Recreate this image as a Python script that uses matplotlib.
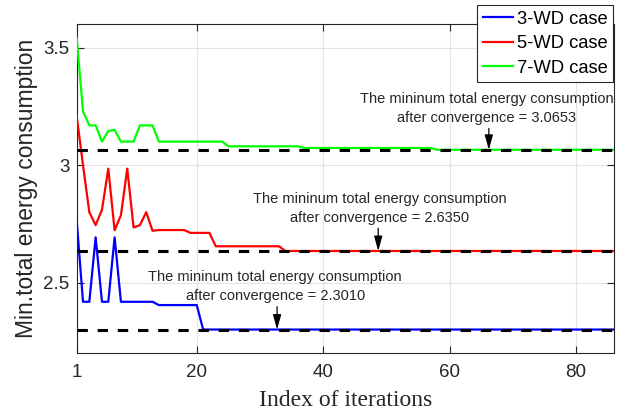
import matplotlib.pyplot as plt

plt.rcParams['font.family'] = ['Liberation Sans', 'DejaVu Sans']

# vertices of each convergence curve (iteration index, min. total energy)
it_3wd = [1, 2, 3, 4, 5, 6, 7, 8, 13, 14, 20, 21, 86]
e_3wd = [2.766, 2.419, 2.419, 2.693, 2.419, 2.419, 2.693, 2.419, 2.419,
         2.405, 2.405, 2.301, 2.301]

it_5wd = [1, 2, 3, 4, 5, 6, 7, 8, 9, 10, 11, 12, 13, 14, 18, 19, 22, 23,
          33, 34, 86]
e_5wd = [3.209, 3.0, 2.80, 2.745, 2.81, 2.985, 2.723, 2.787, 2.985, 2.735,
         2.745, 2.80, 2.721, 2.724, 2.724, 2.712, 2.712, 2.655, 2.655,
         2.635, 2.635]

it_7wd = [1, 2, 3, 4, 5, 6, 7, 8, 10, 11, 13, 14, 24, 25, 36, 37, 57, 58, 86]
e_7wd = [3.541, 3.229, 3.169, 3.169, 3.100, 3.145, 3.150, 3.100, 3.100,
         3.169, 3.169, 3.100, 3.100, 3.080, 3.080, 3.073, 3.073, 3.0653,
         3.0653]

labels = ['3-WD case', '5-WD case', '7-WD case']
colors = ['#0000ff', '#ff0000', '#00ff00']

# converged minimum for each case
e_min = [2.3010, 2.6350, 3.0653]
arrow_x = [32.7, 48.7, 66.2]
arrow_top = [2.398, 2.732, 3.156]
text_x = [32.4, 48.9, 65.9]
text_y = [2.483, 2.814, 3.242]

fig = plt.figure(figsize=(6.27, 4.12), dpi=100)
ax = fig.add_axes([0.1223, 0.1425, 0.857, 0.7992])

for its, es, c, lab in zip([it_3wd, it_5wd, it_7wd], [e_3wd, e_5wd, e_7wd],
                           colors, labels):
    ax.plot(its, es, color=c, lw=1.6, label=lab, zorder=3)

for v, ax_x, top, tx, ty in zip(e_min, arrow_x, arrow_top, text_x, text_y):
    ax.axhline(v, color='k', lw=2.2, ls=(0, (3.4, 3.2)), zorder=4)
    ax.annotate('', xy=(ax_x, v), xytext=(ax_x, top),
                arrowprops=dict(arrowstyle='-|>,head_length=0.9,head_width=0.25',
                                color='k', lw=0.9, shrinkA=0, shrinkB=0),
                zorder=5)
    ax.text(tx, ty, 'The mininum total energy consumption\n'
            'after convergence = %.4f' % v,
            ha='center', va='center', multialignment='center',
            fontsize=10.5, color='#262626', linespacing=1.45, zorder=6)

ax.set_xlim(1, 86)
ax.set_ylim(2.2, 3.6)
ax.set_xticks([1, 20, 40, 60, 80])
ax.set_yticks([2.5, 3, 3.5])
ax.set_yticklabels(['2.5', '3', '3.5'])
ax.grid(True, color='#e3e3e3', lw=0.8)
ax.set_axisbelow(True)
ax.tick_params(direction='in', top=True, right=True, length=5, width=0.8,
               labelsize=13.5, colors='#262626', pad=8)
ax.tick_params(axis='y', pad=5)
for s in ax.spines.values():
    s.set_color('#262626')
    s.set_linewidth(0.8)

ax.set_xlabel('Index of iterations', family='Liberation Serif', fontsize=17,
              color='#262626', labelpad=6)
ax.set_ylabel('Min.total energy consumption', fontsize=16.5, color='#262626',
              labelpad=4)

leg = ax.legend(loc='upper right', bbox_to_anchor=(613 / 627, 1 - 5 / 412),
                bbox_transform=fig.transFigure, borderaxespad=0,
                fontsize=13.2, fancybox=False, framealpha=1,
                edgecolor='#262626', handlelength=1.65, handletextpad=0.2,
                labelspacing=0.42, borderpad=0.3)
leg.get_frame().set_linewidth(0.8)
leg.set_zorder(10)

fig.savefig('out.png', dpi=100)
